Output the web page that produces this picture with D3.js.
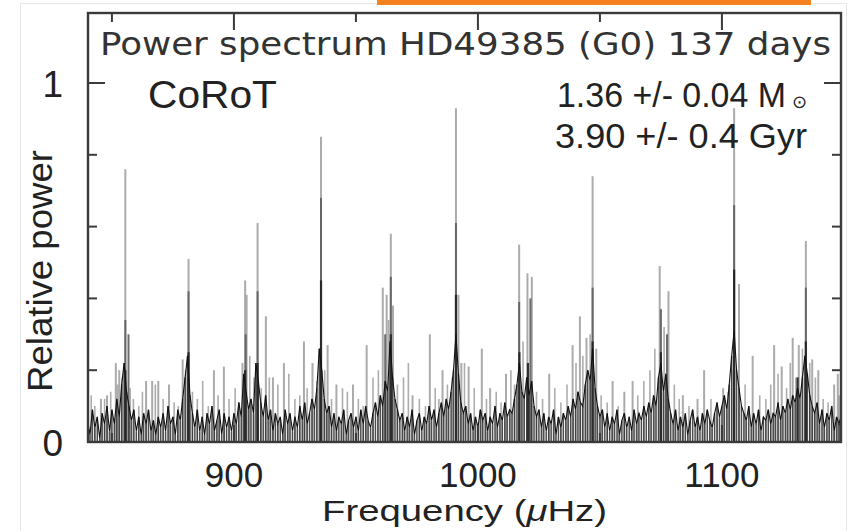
<!DOCTYPE html>
<html>
<head>
<meta charset="utf-8">
<script src="https://cdn.jsdelivr.net/npm/d3@7"></script>
<style>
  html, body { margin: 0; padding: 0; background: #fff; }
  svg { display: block; font-family: "Liberation Sans", Arial, Helvetica, sans-serif; }
</style>
</head>
<body>
<svg id="chart" width="848" height="531"></svg>
<script>
// ---------------- data ----------------
const xTicksMajor = [900, 1000, 1100];
const xTicksMinor = [850, 950, 1050];
const yTicksMajor = [0, 1];
const yTicksMinor = [0.2, 0.4, 0.6, 0.8];
const xTickLabels = ["900", "1000", "1100"];
const yTickLabels = ["0", "1"];

// dense noise floor, sampled every 1 µHz from 840 µHz
const floorStart = 840;
const floorStep = 1;
const floorPower = [
  .06,.02,.09,.04,.07,.01,.08,.05,.10,.03,
  .09,.05,.12,.07,.16,.22,.14,.10,.06,.09,
  .03,.07,.02,.08,.05,.09,.03,.06,.02,.07,
  .04,.08,.03,.10,.05,.07,.02,.09,.06,.12,
  .18,.24,.13,.08,.04,.09,.03,.07,.02,.08,
  .05,.10,.03,.06,.09,.02,.08,.04,.07,.03,
  .08,.05,.11,.07,.19,.14,.09,.12,.08,.22,
  .17,.11,.07,.13,.06,.09,.03,.08,.05,.07,
  .02,.09,.05,.08,.03,.07,.04,.10,.06,.11,
  .05,.08,.12,.09,.15,.26,.20,.12,.08,.10,
  .04,.08,.03,.07,.05,.09,.02,.06,.08,.04,
  .07,.03,.09,.05,.10,.06,.04,.08,.11,.07,
  .13,.10,.17,.14,.28,.18,.12,.09,.06,.08,
  .03,.07,.04,.09,.02,.06,.08,.03,.07,.05,
  .10,.06,.09,.04,.08,.11,.07,.12,.09,.14,
  .20,.30,.19,.11,.08,.10,.05,.08,.03,.07,
  .04,.09,.06,.08,.03,.07,.05,.10,.04,.08,
  .06,.11,.07,.09,.08,.12,.16,.22,.14,.12,
  .18,.13,.17,.10,.07,.09,.04,.08,.03,.07,
  .05,.09,.02,.07,.04,.08,.06,.10,.07,.12,
  .09,.14,.11,.10,.16,.20,.17,.26,.15,.10,
  .07,.09,.04,.08,.03,.07,.05,.09,.02,.06,
  .08,.04,.07,.03,.09,.05,.08,.06,.10,.07,
  .11,.08,.13,.10,.18,.22,.14,.19,.12,.08,
  .05,.09,.03,.07,.04,.08,.02,.06,.09,.04,
  .07,.03,.08,.05,.09,.06,.04,.08,.11,.07,
  .10,.13,.09,.16,.24,.31,.20,.15,.10,.08,
  .06,.10,.04,.08,.05,.09,.03,.07,.06,.09,
  .05,.08,.07,.11,.06,.10,.08,.12,.09,.13,
  .11,.15,.12,.18,.24,.19,.13,.10,.08,.11,
  .05,.09,.04,.08,.06,.10,.03,.07,.05,.08
];

// thin tall spikes (light grey)
const peakFreq = [
  845.5, 848.0, 851.6, 853.0, 855.5, 864.0, 866.5, 869.0, 873.4, 879.0,
  881.4, 891.8, 895.9, 903.5, 904.6, 905.2, 909.7, 913.1, 916.0, 920.5,
  928.7, 932.2, 935.7, 938.4, 942.0, 948.8, 954.4, 961.0, 962.6, 964.3,
  965.2, 973.2, 980.3, 985.5, 991.0, 992.0, 993.2, 996.2, 1001.6, 1005.0,
  1011.5, 1016.9, 1020.3, 1022.1, 1029.2, 1038.8, 1041.8, 1044.5, 1047.0, 1048.5,
  1055.2, 1060.0, 1063.4, 1074.5, 1078.1, 1084.0, 1090.0, 1092.7, 1100.5, 1105.0,
  1107.0, 1112.6, 1121.4, 1124.5, 1129.0, 1131.5, 1134.4, 1137.0, 1139.5, 1146.0,
  1147.5
];
const peakPower = [
  .12, .13, .22, .20, .76, .17, .17, .17, .16, .23,
  .51, .20, .21, .22, .45, .41, .61, .35, .18, .22,
  .28, .22, .85, .27, .16, .16, .27, .43, .41, .58,
  .38, .13, .30, .20, .93, .41, .22, .21, .26, .15,
  .19, .55, .47, .46, .19, .27, .35, .29, .74, .26,
  .17, .14, .17, .49, .42, .13, .12, .20, .15, .93,
  .44, .24, .27, .21, .29, .27, .56, .23, .20, .16,
  .19
];

// smaller grey spikes scattered along the spectrum
const minorFreq = [
  841.5, 843.0, 847.0, 849.5, 852.3, 854.2, 857.5, 858.8, 861.0, 862.5,
  867.8, 871.0, 875.5, 877.2, 880.2, 883.0, 885.0, 887.2, 889.5, 893.5,
  898.0, 900.5, 902.0, 906.5, 908.2, 911.2, 914.5, 918.0, 922.5, 925.0,
  927.0, 930.0, 934.0, 937.2, 940.0, 944.5, 946.5, 951.0, 953.0, 957.0,
  959.2, 963.4, 967.0, 969.5, 971.5, 976.0, 978.5, 982.5, 984.0, 987.5,
  989.5, 994.5, 998.5, 1003.5, 1007.5, 1009.5, 1013.5, 1015.0, 1018.5, 1024.0,
  1026.5, 1031.5, 1034.0, 1036.5, 1040.2, 1043.0, 1046.0, 1050.5, 1053.0, 1057.5,
  1065.5, 1068.0, 1070.5, 1072.5, 1076.3, 1080.5, 1082.5, 1086.5, 1095.5, 1098.0,
  1102.5, 1104.0, 1109.5, 1115.5, 1118.0, 1120.0, 1123.0, 1126.5, 1128.0, 1130.3,
  1133.0, 1136.0, 1138.3, 1141.5, 1143.5, 1148.0
];
const minorPower = [
  .13, .10, .12, .14, .16, .18, .15, .12, .10, .14,
  .16, .12, .11, .10, .20, .14, .12, .17, .10, .13,
  .12, .15, .11, .24, .18, .15, .18, .16, .19, .12,
  .13, .15, .17, .20, .12, .15, .14, .12, .10, .18,
  .20, .34, .16, .18, .22, .12, .10, .15, .12, .16,
  .18, .22, .15, .12, .14, .11, .20, .16, .28, .14,
  .12, .15, .11, .16, .22, .24, .30, .13, .11, .10,
  .13, .17, .20, .26, .32, .16, .12, .10, .12, .11,
  .14, .20, .16, .13, .12, .16, .19, .15, .22, .18,
  .26, .22, .18, .12, .11, .13
];

// medium-grey inner part of the main peaks
const midFreq  = [855.5, 856.8, 881.4, 904.8, 909.7, 935.7, 962.0, 964.3, 991.0, 1016.9, 1021.5, 1047.0, 1075.0, 1077.5, 1105.0, 1134.4];
const midPower = [.34,   .30,   .42,   .30,   .42,   .68,   .30,   .46,   .61,   .39,    .40,    .43,    .37,    .30,    .66,    .43];

// dark core of the main peaks
const coreFreq  = [855.5, 881.4, 904.6, 909.7, 935.7, 964.3, 991.0, 1017.0, 1020.5, 1047.0, 1075.0, 1105.0, 1131.0, 1134.4];
const corePower = [.20,   .25,   .20,   .22,   .45,   .30,   .41,   .25,    .22,    .28,    .25,    .48,    .18,    .28];

// ---------------- layout ----------------
const svg = d3.select("#chart");
const plot = { left: 88, right: 841, top: 13, bottom: 442 };

const x = d3.scaleLinear().domain([840.2, 1148.8]).range([plot.left, plot.right]);
const y = d3.scaleLinear().domain([0, 1.195]).range([plot.bottom, plot.top]);

// screenshot border + orange strip
svg.append("rect").attr("x", 20.5).attr("y", 3.5).attr("width", 826).attr("height", 540)
  .attr("fill", "none").attr("stroke", "#e6e6e6").attr("stroke-width", 1);
svg.append("rect").attr("x", 377).attr("y", 0).attr("width", 434).attr("height", 5)
  .attr("fill", "#f5821f");

// clip
svg.append("clipPath").attr("id", "clip").append("rect")
  .attr("x", plot.left).attr("y", plot.top)
  .attr("width", plot.right - plot.left).attr("height", plot.bottom - plot.top);
const g = svg.append("g").attr("clip-path", "url(#clip)");

function spikes(freqs, powers, color, width, opacity) {
  g.append("g").selectAll("line").data(freqs).join("line")
    .attr("x1", d => x(d)).attr("x2", d => x(d))
    .attr("y1", y(0)).attr("y2", (d, i) => y(powers[i]))
    .attr("stroke", color).attr("stroke-width", width)
    .attr("stroke-opacity", opacity);
}
spikes(peakFreq, peakPower, "#9c9c9c", 2, 0.85);
spikes(minorFreq, minorPower, "#8a8a8a", 1.6, 0.7);
spikes(midFreq, midPower, "#5e5e5e", 2, 0.9);
spikes(coreFreq, corePower, "#262626", 2.2, 0.95);

// noise floor: dense bars plus connecting line
const floorFreq = floorPower.map((p, i) => floorStart + i * floorStep);
spikes(floorFreq, floorPower, "#2e2e2e", 1.5, 0.85);
g.append("path").datum(floorFreq.map((f, i) => [f, floorPower[i]]))
  .attr("d", d3.line().x(d => x(d[0])).y(d => y(d[1])))
  .attr("fill", "none").attr("stroke", "#111").attr("stroke-width", 1.1);

// ---------------- frame and ticks ----------------
const frameColor = "#3a3a3a";
svg.append("rect").attr("x", plot.left).attr("y", plot.top)
  .attr("width", plot.right - plot.left).attr("height", plot.bottom - plot.top)
  .attr("fill", "none").attr("stroke", frameColor).attr("stroke-width", 2.4);

const tickG = svg.append("g").attr("stroke", frameColor).attr("stroke-width", 2);
const majLen = 17, minLen = 9;
[[xTicksMajor, majLen], [xTicksMinor, minLen]].forEach(([ticks, len]) => {
  ticks.forEach(t => {
    tickG.append("line").attr("x1", x(t)).attr("x2", x(t)).attr("y1", plot.top).attr("y2", plot.top + len);
    tickG.append("line").attr("x1", x(t)).attr("x2", x(t)).attr("y1", plot.bottom).attr("y2", plot.bottom - len);
  });
});
[[yTicksMajor, majLen], [yTicksMinor, minLen]].forEach(([ticks, len]) => {
  ticks.forEach(t => {
    tickG.append("line").attr("x1", plot.left).attr("x2", plot.left + len).attr("y1", y(t)).attr("y2", y(t));
    tickG.append("line").attr("x1", plot.right).attr("x2", plot.right - len).attr("y1", y(t)).attr("y2", y(t));
  });
});

// tick labels
const txt = svg.append("g").attr("fill", "#222");
xTicksMajor.forEach((t, i) => {
  txt.append("text").attr("x", x(t)).attr("y", 486.5).attr("text-anchor", "middle")
    .attr("font-size", 35).text(xTickLabels[i]);
});
yTicksMajor.forEach((t, i) => {
  txt.append("text").attr("x", 63).attr("y", y(t) + 14).attr("text-anchor", "end")
    .attr("font-size", 37).text(yTickLabels[i]);
});

// axis titles
txt.append("text").attr("x", 322).attr("y", 521).attr("font-size", 30)
  .attr("textLength", 285).attr("lengthAdjust", "spacingAndGlyphs")
  .call(t => {
    t.append("tspan").text("Frequency (");
    t.append("tspan").attr("font-style", "italic").text("μ");
    t.append("tspan").text("Hz)");
  });
txt.append("text").attr("transform", "translate(52,392) rotate(-90)")
  .attr("font-size", 35).attr("textLength", 242).attr("lengthAdjust", "spacingAndGlyphs")
  .text("Relative power");

// annotations
svg.append("text").attr("x", 100).attr("y", 55).attr("font-size", 32).attr("fill", "#333")
  .attr("font-family", "'DejaVu Sans', Verdana, sans-serif")
  .attr("textLength", 731).attr("lengthAdjust", "spacingAndGlyphs")
  .text("Power spectrum HD49385 (G0) 137 days");
svg.append("text").attr("x", 148).attr("y", 108).attr("font-size", 38).attr("fill", "#222")
  .attr("textLength", 129).attr("lengthAdjust", "spacingAndGlyphs").text("CoRoT");
svg.append("text").attr("x", 557).attr("y", 107).attr("font-size", 35).attr("fill", "#222")
  .attr("textLength", 229).attr("lengthAdjust", "spacingAndGlyphs").text("1.36 +/- 0.04 M");
svg.append("text").attr("x", 792).attr("y", 108).attr("font-size", 18).attr("fill", "#222")
  .text("\u2299");
svg.append("text").attr("x", 555).attr("y", 148).attr("font-size", 35).attr("fill", "#222")
  .attr("textLength", 252).attr("lengthAdjust", "spacingAndGlyphs").text("3.90 +/- 0.4 Gyr");
</script>
</body>
</html>
